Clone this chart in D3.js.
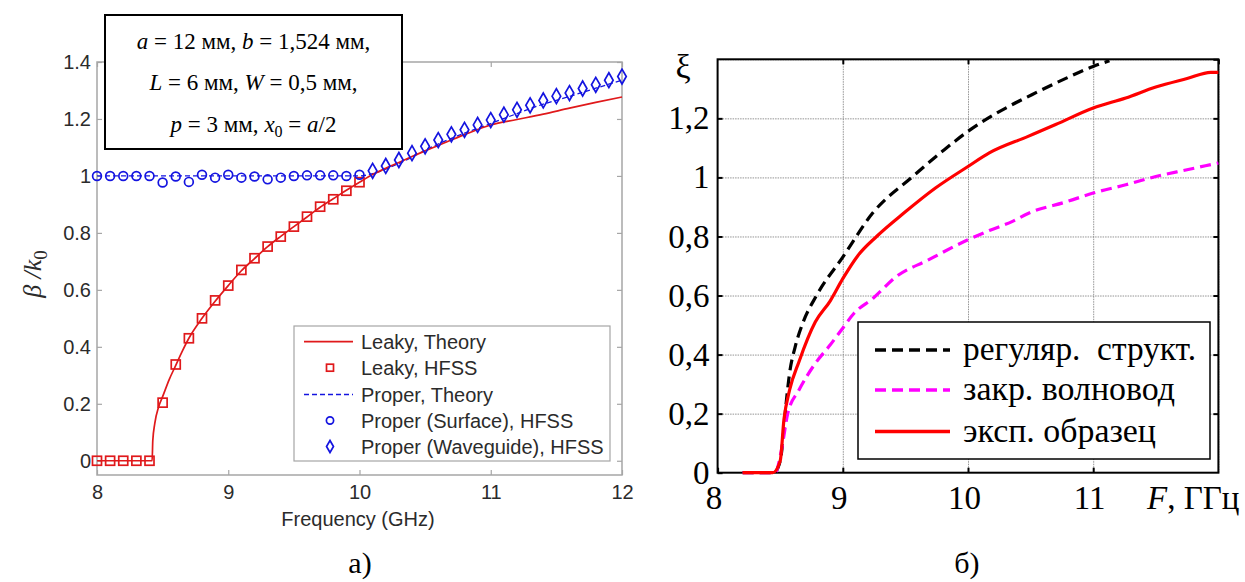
<!DOCTYPE html>
<html>
<head>
<meta charset="utf-8">
<script src="https://cdn.jsdelivr.net/npm/d3@7"></script>
<style>
  body { margin: 0; background: #fff; }
  svg { display: block; }
</style>
</head>
<body>
<svg id="chart" width="1245" height="582"></svg>
<script>
// ---- panel a) data ----
const leakyTheory = [
  [8, 0], [8.42, 0], [8.425, 0.07], [8.44, 0.13], [8.47, 0.19], [8.5, 0.225], [8.55, 0.285],
  [8.6, 0.335], [8.65, 0.385], [8.7, 0.43], [8.8, 0.5], [8.9, 0.56], [9.0, 0.615], [9.1, 0.667],
  [9.2, 0.71], [9.3, 0.752], [9.4, 0.788], [9.5, 0.822], [9.6, 0.856], [9.7, 0.89], [9.8, 0.92],
  [9.9, 0.95], [10.0, 0.978], [10.1, 1.005], [10.2, 1.027], [10.3, 1.047], [10.4, 1.068],
  [10.5, 1.088], [10.6, 1.107], [10.8, 1.145], [11.0, 1.179], [11.2, 1.198], [11.4, 1.217],
  [11.6, 1.238], [11.8, 1.258], [12.0, 1.277]
];
const leakyHfss = [
  [8.0, 0], [8.1, 0], [8.2, 0], [8.3, 0], [8.4, 0], [8.5, 0.204], [8.6, 0.338], [8.7, 0.43],
  [8.8, 0.5], [8.9, 0.563], [9.0, 0.615], [9.1, 0.67], [9.2, 0.711], [9.3, 0.752], [9.4, 0.787],
  [9.5, 0.822], [9.6, 0.857], [9.7, 0.892], [9.8, 0.918], [9.9, 0.948], [10.0, 0.978]
];
const properTheory = [
  [8, 1.0], [10.0, 1.0], [10.1, 1.008], [10.2, 1.024], [10.3, 1.044], [10.4, 1.066], [10.5, 1.09],
  [10.6, 1.112], [10.7, 1.132], [10.8, 1.15], [10.9, 1.167], [11.0, 1.184], [11.2, 1.219],
  [11.4, 1.252], [11.6, 1.279], [11.8, 1.308], [12.0, 1.336]
];
const properSurface = [
  [8.0, 1.0], [8.1, 1.0], [8.2, 1.0], [8.3, 1.0], [8.4, 1.0], [8.5, 0.977], [8.6, 0.998],
  [8.7, 0.979], [8.8, 1.004], [8.9, 0.994], [9.0, 1.004], [9.1, 0.994], [9.2, 0.998], [9.3, 0.988],
  [9.4, 0.994], [9.5, 1.0], [9.6, 1.002], [9.7, 1.002], [9.8, 1.002], [9.9, 1.0], [10.0, 1.004]
];
const properWaveguide = [
  [10.1, 1.018], [10.2, 1.035], [10.3, 1.056], [10.4, 1.08], [10.5, 1.104], [10.6, 1.126],
  [10.7, 1.146], [10.8, 1.162], [10.9, 1.179], [11.0, 1.196], [11.1, 1.215], [11.2, 1.232],
  [11.3, 1.248], [11.4, 1.265], [11.5, 1.28], [11.6, 1.291], [11.7, 1.307], [11.8, 1.32],
  [11.9, 1.336], [12.0, 1.349]
];
const aXTicks = [8, 9, 10, 11, 12];
const aYTicks = [0, 0.2, 0.4, 0.6, 0.8, 1, 1.2, 1.4];
const aLegend = ['Leaky, Theory', 'Leaky, HFSS', 'Proper, Theory', 'Proper (Surface), HFSS', 'Proper (Waveguide), HFSS'];

// ---- panel б) data ----
const regular = [
  [8.2, 0], [8.45, 0], [8.5, 0.04], [8.53, 0.15], [8.545, 0.224], [8.575, 0.337], [8.62, 0.427],
  [8.68, 0.506], [8.79, 0.6], [9.0, 0.73], [9.24, 0.88], [9.55, 1.0], [9.8, 1.09], [10.0, 1.156],
  [10.23, 1.218], [10.51, 1.28], [10.79, 1.337], [11.0, 1.376], [11.13, 1.395]
];
const closedWg = [
  [8.2, 0], [8.46, 0], [8.51, 0.077], [8.56, 0.2], [8.65, 0.28], [8.78, 0.37], [8.9, 0.433],
  [8.99, 0.484], [9.09, 0.54], [9.24, 0.59], [9.43, 0.665], [9.68, 0.72], [10.0, 0.789],
  [10.17, 0.82], [10.36, 0.852], [10.48, 0.878], [10.79, 0.918], [11.0, 0.947], [11.26, 0.975],
  [11.5, 1.003], [11.75, 1.026], [12.0, 1.049]
];
const sample = [
  [8.2, 0], [8.44, 0], [8.5, 0.04], [8.53, 0.18], [8.575, 0.28], [8.65, 0.376], [8.78, 0.51],
  [8.9, 0.582], [9.0, 0.657], [9.12, 0.735], [9.27, 0.8], [9.49, 0.88], [9.74, 0.964], [10.0, 1.037],
  [10.17, 1.083], [10.48, 1.139], [10.7, 1.179], [11.0, 1.235], [11.26, 1.269], [11.5, 1.306],
  [11.75, 1.335], [11.94, 1.356], [12.0, 1.356]
];
const bXTicks = [8, 9, 10, 11];
const bXGrid = [9, 10, 11, 12];
const bYTicks = [0, 0.2, 0.4, 0.6, 0.8, 1, 1.2];
const bYGrid = [0.2, 0.4, 0.6, 0.8, 1, 1.2, 1.4];
const bLegend = ['регуляр.  структ.', 'закр. волновод', 'эксп. образец'];

const svg = d3.select('#chart');
const sans = '"Liberation Sans", Arial, sans-serif';
const serif = '"Liberation Serif", "Times New Roman", serif';

// ================= panel a) =================
const red = '#e0191b', blue = '#1414e0', gray = '#a6a6a6', txt = '#2b2b2b';
const xa = d3.scaleLinear().domain([8, 12]).range([97, 622]);
const ya = d3.scaleLinear().domain([-0.05, 1.4]).range([475, 62]);
const ga = svg.append('g');

function styleAxisA(g) {
  g.select('.domain').remove();
  g.selectAll('line').attr('stroke', gray).attr('stroke-width', 1.2);
  g.selectAll('text').attr('fill', txt).style('font', `20px ${sans}`);
}
ga.append('g').attr('transform', `translate(0,${ya.range()[0]})`)
  .call(d3.axisBottom(xa).tickValues(aXTicks).tickSize(-5).tickPadding(10).tickFormat(d => d))
  .call(styleAxisA);
ga.append('g').attr('transform', `translate(0,${ya.range()[1]})`)
  .call(d3.axisTop(xa).tickValues(aXTicks).tickSize(-5).tickFormat(''))
  .call(styleAxisA);
ga.append('g').attr('transform', `translate(${xa.range()[0]},0)`)
  .call(d3.axisLeft(ya).tickValues(aYTicks).tickSize(-5).tickPadding(6).tickFormat(d => d))
  .call(styleAxisA);
ga.append('g').attr('transform', `translate(${xa.range()[1]},0)`)
  .call(d3.axisRight(ya).tickValues(aYTicks).tickSize(-5).tickFormat(''))
  .call(styleAxisA);
ga.append('rect')
  .attr('x', xa.range()[0]).attr('y', ya.range()[1])
  .attr('width', xa.range()[1] - xa.range()[0]).attr('height', ya.range()[0] - ya.range()[1])
  .attr('fill', 'none').attr('stroke', gray).attr('stroke-width', 1.5);

const lineA = d3.line().x(d => xa(d[0])).y(d => ya(d[1])).curve(d3.curveMonotoneX);
ga.append('path').datum(properTheory).attr('d', lineA)
  .attr('fill', 'none').attr('stroke', blue).attr('stroke-width', 1.3).attr('stroke-dasharray', '5,3');
ga.append('path').datum(leakyTheory).attr('d', lineA)
  .attr('fill', 'none').attr('stroke', red).attr('stroke-width', 1.7);

ga.append('g').selectAll('rect').data(leakyHfss).join('rect')
  .attr('x', d => xa(d[0]) - 4.5).attr('y', d => ya(d[1]) - 4.5)
  .attr('width', 9).attr('height', 9)
  .attr('fill', 'none').attr('stroke', red).attr('stroke-width', 1.7);
ga.append('g').selectAll('circle').data(properSurface).join('circle')
  .attr('cx', d => xa(d[0])).attr('cy', d => ya(d[1])).attr('r', 4.4)
  .attr('fill', 'none').attr('stroke', blue).attr('stroke-width', 1.7);
const diamond = d3.symbol().type(d3.symbolDiamond).size(64);
ga.append('g').selectAll('path').data(properWaveguide).join('path')
  .attr('transform', d => `translate(${xa(d[0])},${ya(d[1])})`)
  .attr('d', diamond)
  .attr('fill', 'none').attr('stroke', blue).attr('stroke-width', 1.7);

// axis titles
ga.append('text').attr('x', 358).attr('y', 526).attr('text-anchor', 'middle')
  .attr('fill', txt).style('font', `20px ${sans}`)
  .text('Frequency (GHz)');
const yl = ga.append('text')
  .attr('transform', 'translate(41,274) rotate(-90)')
  .attr('text-anchor', 'middle').attr('fill', txt)
  .style('font', `italic 26px ${serif}`);
yl.append('tspan').text('β /k');
yl.append('tspan').attr('dy', 6).style('font-size', '19px').style('font-style', 'normal').text('0');

// legend a)
const lgA = ga.append('g');
lgA.append('rect').attr('x', 294).attr('y', 326).attr('width', 316).attr('height', 135)
  .attr('fill', '#fff').attr('stroke', gray).attr('stroke-width', 1.2);
const rowsA = [341.7, 367.7, 394.5, 420.5, 446.5];
aLegend.forEach((label, i) => {
  const y = rowsA[i];
  if (i === 0) lgA.append('line').attr('x1', 304).attr('x2', 353).attr('y1', y).attr('y2', y)
    .attr('stroke', red).attr('stroke-width', 1.7);
  if (i === 1) lgA.append('rect').attr('x', 326.5).attr('y', y - 3.5).attr('width', 7).attr('height', 7)
    .attr('fill', 'none').attr('stroke', red).attr('stroke-width', 1.7);
  if (i === 2) lgA.append('line').attr('x1', 304).attr('x2', 353).attr('y1', y).attr('y2', y)
    .attr('stroke', blue).attr('stroke-width', 1.3).attr('stroke-dasharray', '5,3');
  if (i === 3) lgA.append('circle').attr('cx', 330).attr('cy', y).attr('r', 3.6)
    .attr('fill', 'none').attr('stroke', blue).attr('stroke-width', 1.7);
  if (i === 4) lgA.append('path').attr('transform', `translate(330,${y})`)
    .attr('d', d3.symbol().type(d3.symbolDiamond).size(42))
    .attr('fill', 'none').attr('stroke', blue).attr('stroke-width', 1.7);
  lgA.append('text').attr('x', 361).attr('y', y).attr('dy', '0.36em')
    .attr('fill', txt).style('font', `20px ${sans}`).text(label);
});

// parameter box
const pb = ga.append('g');
pb.append('rect').attr('x', 105).attr('y', 15).attr('width', 297).attr('height', 134)
  .attr('fill', '#fff').attr('stroke', '#000').attr('stroke-width', 2);
const pLines = [
  [['a', 1], [' = 12 мм, ', 0], ['b', 1], [' = 1,524 мм,', 0]],
  [['L', 1], [' = 6 мм, ', 0], ['W', 1], [' = 0,5 мм,', 0]],
  [['p', 1], [' = 3 мм, ', 0], ['x', 1], ['0', 2], [' = ', 0], ['a', 1], ['/2', 0]]
];
const pY = [49, 90, 132];
pLines.forEach((parts, i) => {
  const t = pb.append('text').attr('x', 253.5).attr('y', pY[i]).attr('text-anchor', 'middle')
    .style('font', `23px ${serif}`).attr('fill', '#000');
  parts.forEach(([s, k], j) => {
    const sp = t.append('tspan').text(s);
    if (k === 1) sp.style('font-style', 'italic');
    if (k === 2) sp.attr('dy', 5).style('font-size', '16px');
    if (j > 0 && parts[j - 1][1] === 2) sp.attr('dy', -5);
  });
});

ga.append('text').attr('x', 360).attr('y', 573).attr('text-anchor', 'middle')
  .style('font', `30px ${serif}`).text('а)');

// ================= panel б) =================
const xb = d3.scaleLinear().domain([8, 12]).range([717.6, 1218.4]);
const yb = d3.scaleLinear().domain([0, 1.4]).range([472.7, 59.3]);
const gb = svg.append('g');

// grid
gb.append('g').attr('transform', `translate(0,${yb.range()[0]})`)
  .call(d3.axisBottom(xb).tickValues(bXGrid).tickSize(-(yb.range()[0] - yb.range()[1])).tickFormat(''))
  .call(g => g.select('.domain').remove())
  .call(g => g.selectAll('line').attr('stroke', '#777').attr('stroke-width', 0.8).attr('stroke-dasharray', '1.5,1'));
gb.append('g').attr('transform', `translate(${xb.range()[0]},0)`)
  .call(d3.axisLeft(yb).tickValues(bYGrid).tickSize(-(xb.range()[1] - xb.range()[0])).tickFormat(''))
  .call(g => g.select('.domain').remove())
  .call(g => g.selectAll('line').attr('stroke', '#777').attr('stroke-width', 0.8).attr('stroke-dasharray', '1.5,1'));

function styleAxisB(g) {
  g.select('.domain').remove();
  g.selectAll('line').attr('stroke', '#000').attr('stroke-width', 2);
  g.selectAll('text').attr('fill', '#000').style('font', `33px ${serif}`);
}
gb.append('g').attr('transform', `translate(0,${yb.range()[0]})`)
  .call(d3.axisBottom(xb).tickValues(bXTicks).tickSize(-5).tickPadding(13).tickFormat(d => d))
  .call(styleAxisB)
  .call(g => g.selectAll('.tick text').attr('dx', d => d === 8 ? -4 : -4));
gb.append('g').attr('transform', `translate(0,${yb.range()[1]})`)
  .call(d3.axisTop(xb).tickValues(bXGrid).tickSize(-5).tickFormat(''))
  .call(styleAxisB);
gb.append('g').attr('transform', `translate(${xb.range()[0]},0)`)
  .call(d3.axisLeft(yb).tickValues(bYTicks).tickSize(-5).tickPadding(8).tickFormat(d => String(d).replace('.', ',')))
  .call(styleAxisB);
gb.append('g').attr('transform', `translate(${xb.range()[1]},0)`)
  .call(d3.axisRight(yb).tickValues(bYGrid).tickSize(-5).tickFormat(''))
  .call(styleAxisB);
gb.append('rect')
  .attr('x', xb.range()[0]).attr('y', yb.range()[1])
  .attr('width', xb.range()[1] - xb.range()[0]).attr('height', yb.range()[0] - yb.range()[1])
  .attr('fill', 'none').attr('stroke', '#000').attr('stroke-width', 2);

const lineB = d3.line().x(d => xb(d[0])).y(d => yb(d[1])).curve(d3.curveMonotoneX);
const seriesB = [
  { data: regular, color: '#000', dash: '11,6' },
  { data: closedWg, color: '#ff00ff', dash: '11,6' },
  { data: sample, color: '#ff0000', dash: null }
];
seriesB.forEach(s => {
  gb.append('path').datum(s.data).attr('d', lineB)
    .attr('fill', 'none').attr('stroke', s.color).attr('stroke-width', 3.2)
    .attr('stroke-linejoin', 'round')
    .attr('stroke-dasharray', s.dash);
});

// legend б)
const lgB = gb.append('g');
lgB.append('rect').attr('x', 858).attr('y', 322).attr('width', 352).attr('height', 137)
  .attr('fill', '#fff').attr('stroke', '#000').attr('stroke-width', 1.5);
const rowsB = [350, 390, 431.5];
const bLegendWidth = [233, 212, 193];
bLegend.forEach((label, i) => {
  const y = rowsB[i];
  lgB.append('line').attr('x1', 875).attr('x2', 950).attr('y1', y).attr('y2', y)
    .attr('stroke', seriesB[i].color).attr('stroke-width', 3.5).attr('stroke-dasharray', seriesB[i].dash);
  lgB.append('text').attr('x', 963).attr('y', y).attr('dy', '0.3em')
    .style('font', `34px ${serif}`).style('white-space', 'pre').attr('xml:space', 'preserve')
    .attr('textLength', bLegendWidth[i]).attr('lengthAdjust', 'spacingAndGlyphs')
    .text(label);
});

// labels
gb.append('text').attr('x', 683).attr('y', 78).attr('text-anchor', 'middle')
  .style('font', `34px ${serif}`).text('ξ');
const fl = gb.append('text').attr('x', 1147).attr('y', 509).style('font', `33px ${serif}`);
fl.append('tspan').style('font-style', 'italic').text('F');
fl.append('tspan').text(', ГГц');
gb.append('text').attr('x', 967).attr('y', 573).attr('text-anchor', 'middle')
  .style('font', `30px ${serif}`).text('б)');
</script>
</body>
</html>
